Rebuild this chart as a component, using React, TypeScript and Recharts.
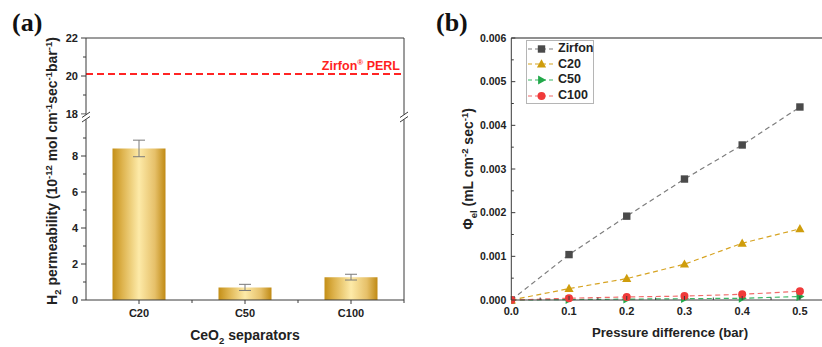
import React from 'react';
import {
  BarChart,
  Bar,
  XAxis,
  YAxis,
  ErrorBar,
  ReferenceLine,
  Label,
  LineChart,
  Line,
  Legend,
} from 'recharts';

// ---------- Panel (a) data ----------
const categories = ['C20', 'C50', 'C100'];
const permeability = [8.42, 0.7, 1.27];
const permeabilityErr = [0.46, 0.17, 0.16];
const zirfonPerl = 20.1;
const lowerTicks = [0, 1, 2, 3, 4, 5, 6, 7, 8, 9];
const upperTicks = [18, 19, 20, 21, 22];

// ---------- Panel (b) data ----------
const pressure = [0, 0.1, 0.2, 0.3, 0.4, 0.5];
const zirfon = [0, 0.00104, 0.00192, 0.00277, 0.00355, 0.00442];
const c20 = [0, 0.00026, 0.00049, 0.00082, 0.0013, 0.00163];
const c50 = [0, 0.00001, 0.00002, 0.00003, 0.00004, 0.00008];
const c100 = [0, 0.00004, 0.00007, 0.00009, 0.00013, 0.0002];
const pTicks = [0, 0.05, 0.1, 0.15, 0.2, 0.25, 0.3, 0.35, 0.4, 0.45, 0.5];
const phiTicks = [0, 0.0005, 0.001, 0.0015, 0.002, 0.0025, 0.003, 0.0035, 0.004, 0.0045, 0.005, 0.0055, 0.006];

// ---------- broken y axis for panel (a): lower segment 0..10, gap, upper segment 18..22 ----------
const LOWER_MAX = 10;
const BREAK_GAP = 1 / 3; // in lower-segment units
const UPPER_MIN = 18;
const UPPER_STRETCH = 19 / 18; // upper segment drawn slightly taller per unit
const brk = (u: number) => LOWER_MAX + BREAK_GAP + (u - UPPER_MIN) * UPPER_STRETCH;
const Y_MAX = brk(upperTicks[upperTicks.length - 1]);

const yTickLabel = new Map<number, string>();
lowerTicks.forEach((t) => yTickLabel.set(t, t % 2 === 0 ? String(t) : ''));
upperTicks.forEach((t) => yTickLabel.set(brk(t), t % 2 === 0 ? String(t) : ''));
const panelATicks = Array.from(yTickLabel.keys());

const barData = categories.map((c, i) => ({ cat: c, val: permeability[i], err: permeabilityErr[i] }));
const phiData = pressure.map((p, i) => ({ p, zirfon: zirfon[i], c20: c20[i], c50: c50[i], c100: c100[i] }));

const FONT = '"Liberation Sans", Arial, sans-serif';
const AXIS = '#3a3a3a';

type TickOpts = {
  side: 'left' | 'bottom';
  inward: boolean;
  majorLen: number;
  minorLen: number;
  margin: number;
  isMajor: (v: any) => boolean;
  fmt: (v: any) => string;
  fontSize: number;
  boundaries?: boolean;
};

const makeTick = (o: TickOpts) => (props: any) => {
  const { x, y, payload } = props;
  const v = payload.value;
  const major = o.isMajor(v);
  const len = major ? o.majorLen : o.minorLen;
  const dir = o.inward ? 1 : -1;
  if (o.side === 'left') {
    const ax = x + o.margin;
    return (
      <g>
        <line x1={ax} x2={ax + dir * len} y1={y} y2={y} stroke={AXIS} strokeWidth={1} />
        {major && (
          <text x={x} y={y} dy="0.36em" textAnchor="end" fontFamily={FONT} fontWeight="bold" fontSize={o.fontSize} fill="#222">
            {o.fmt(v)}
          </text>
        )}
      </g>
    );
  }
  const ay = y - o.margin;
  const band =
    o.boundaries && typeof props.width === 'number' && props.visibleTicksCount
      ? props.width / props.visibleTicksCount
      : 0;
  return (
    <g>
      <line x1={x} x2={x} y1={ay} y2={ay - dir * len} stroke={AXIS} strokeWidth={1} />
      {band > 0 && (
        <line x1={x + band / 2} x2={x + band / 2} y1={ay} y2={ay - dir * o.minorLen} stroke={AXIS} strokeWidth={1} />
      )}
      {major && (
        <text x={x} y={y} dy="0.71em" textAnchor="middle" fontFamily={FONT} fontWeight="bold" fontSize={o.fontSize} fill="#222">
          {o.fmt(v)}
        </text>
      )}
    </g>
  );
};

const panelAYTick = makeTick({
  side: 'left', inward: false, majorLen: 5, minorLen: 3, margin: 8,
  isMajor: (v) => (yTickLabel.get(v) || '') !== '', fmt: (v) => yTickLabel.get(v) || '', fontSize: 11,
});
const catXTick = makeTick({
  side: 'bottom', inward: false, majorLen: 4, minorLen: 3, margin: 9.5,
  isMajor: () => true, fmt: (v) => String(v), fontSize: 11, boundaries: true,
});
const phiYTick = makeTick({
  side: 'left', inward: true, majorLen: 4, minorLen: 2.5, margin: 5,
  isMajor: (v) => Math.abs(Math.round(v * 1000) - v * 1000) < 1e-6, fmt: (v) => v.toFixed(3), fontSize: 10.5,
});
const pXTick = makeTick({
  side: 'bottom', inward: true, majorLen: 4, minorLen: 2.5, margin: 7,
  isMajor: (v) => Math.abs(Math.round(v * 10) - v * 10) < 1e-6, fmt: (v) => v.toFixed(1), fontSize: 11,
});

// ---------- markers ----------
const mk = {
  zirfon: { fill: '#4a4a4a', line: '#7d7d7d' },
  c20: { fill: '#cf9d0c', line: '#d6a321' },
  c50: { fill: '#22a84a', line: '#3bb765' },
  c100: { fill: '#f03a3a', line: '#f06a6a' },
};

const Square = ({ cx, cy, fill }: any) => <rect x={cx - 3.7} y={cy - 3.7} width={7.4} height={7.4} fill={fill} />;
const TriUp = ({ cx, cy, fill }: any) => (
  <polygon points={`${cx},${cy - 4.8} ${cx - 4.6},${cy + 3.4} ${cx + 4.6},${cy + 3.4}`} fill={fill} />
);
const TriRight = ({ cx, cy, fill }: any) => (
  <polygon points={`${cx + 4.6},${cy} ${cx - 3.4},${cy - 4.4} ${cx - 3.4},${cy + 4.4}`} fill={fill} />
);
const Circ = ({ cx, cy, fill }: any) => <circle cx={cx} cy={cy} r={4} fill={fill} />;

const seriesMeta = [
  { key: 'zirfon', name: 'Zirfon', shape: Square, ...mk.zirfon },
  { key: 'c20', name: 'C20', shape: TriUp, ...mk.c20 },
  { key: 'c50', name: 'C50', shape: TriRight, ...mk.c50 },
  { key: 'c100', name: 'C100', shape: Circ, ...mk.c100 },
];

const LegendBox = () => (
  <div
    style={{
      border: '1px solid #b5b5b5',
      background: '#fff',
      fontFamily: FONT,
      fontWeight: 'bold',
      fontSize: 12.5,
      width: 66,
      color: '#222',
    }}
  >
    {seriesMeta.map((s) => {
      const Shape = s.shape;
      return (
        <div key={s.key} style={{ display: 'flex', alignItems: 'center', height: 15.6, lineHeight: '15.6px' }}>
          <svg width={26} height={12} style={{ marginRight: 5, flex: 'none' }}>
            <line x1={1} x2={26} y1={6} y2={6} stroke={s.line} strokeWidth={1.2} strokeDasharray="4 3" />
            <Shape cx={14.5} cy={6} fill={s.fill} />
          </svg>
          <span>{s.name}</span>
        </div>
      );
    })}
  </div>
);

const leftYTitle = (props: any) => {
  const vb = props.viewBox || { x: 0, y: 38, width: 86, height: 262 };
  const cx = vb.x + 52;
  const cy = vb.y + vb.height / 2 + 2;
  return (
    <text
      transform={`translate(${cx},${cy}) rotate(-90)`}
      textAnchor="middle"
      dy="0.36em"
      fontFamily={FONT}
      fontWeight="bold"
      fontSize={14}
      fill="#222"
    >
      H<tspan fontSize={9.5} dy={4}>2</tspan>
      <tspan dy={-4}> permeability (10</tspan>
      <tspan fontSize={9.5} dy={-5.5}>-12</tspan>
      <tspan dy={5.5}> mol cm</tspan>
      <tspan fontSize={9.5} dy={-5.5}>-1</tspan>
      <tspan dy={5.5}>sec</tspan>
      <tspan fontSize={9.5} dy={-5.5}>-1</tspan>
      <tspan dy={5.5}>bar</tspan>
      <tspan fontSize={9.5} dy={-5.5}>-1</tspan>
      <tspan dy={5.5}>)</tspan>
    </text>
  );
};

const leftXTitle = (props: any) => {
  const vb = props.viewBox || { x: 86, y: 300, width: 318, height: 47 };
  return (
    <text x={vb.x + vb.width / 2} y={vb.y + 40} textAnchor="middle" fontFamily={FONT} fontWeight="bold" fontSize={14} fill="#222">
      CeO<tspan fontSize={9.5} dy={4}>2</tspan>
      <tspan dy={-4}> separators</tspan>
    </text>
  );
};

const rightYTitle = (props: any) => {
  const vb = props.viewBox || { x: 0, y: 38, width: 91, height: 262 };
  const cx = vb.x + 48;
  const cy = vb.y + vb.height / 2;
  return (
    <text
      transform={`translate(${cx},${cy}) rotate(-90)`}
      textAnchor="middle"
      dy="0.36em"
      fontFamily={FONT}
      fontWeight="bold"
      fontSize={14}
      fill="#222"
    >
      Φ<tspan fontSize={9.5} dy={4}>el</tspan>
      <tspan dy={-4}> (mL cm</tspan>
      <tspan fontSize={9.5} dy={-5.5}>-2</tspan>
      <tspan dy={5.5}> sec</tspan>
      <tspan fontSize={9.5} dy={-5.5}>-1</tspan>
      <tspan dy={5.5}>)</tspan>
    </text>
  );
};

const rightXTitle = (props: any) => {
  const vb = props.viewBox || { x: 91.3, y: 300, width: 312, height: 47 };
  return (
    <text x={vb.x + 158.7} y={vb.y + 37} textAnchor="middle" fontFamily={FONT} fontWeight="bold" fontSize={13.2} fill="#222">
      Pressure difference (bar)
    </text>
  );
};

const perlLabel = (props: any) => {
  const vb = props.viewBox || { x: 86, y: 74, width: 318 };
  return (
    <text x={vb.x + vb.width - 4} y={vb.y - 4.5} textAnchor="end" fontFamily={FONT} fontWeight="bold" fontSize={12.5} fill="#ff1f1f">
      Zirfon<tspan fontSize={8} dy={-5}>®</tspan>
      <tspan dy={5}> PERL</tspan>
    </text>
  );
};

const abs = (left: number, top: number): React.CSSProperties => ({ position: 'absolute', left, top });

export default function App() {
  return (
    <div style={{ position: 'fixed', left: 0, top: 0, width: 822, height: 347, overflow: 'hidden', background: '#fff' }}>
      {/* Panel (a) */}
      <div style={abs(0, 0)}>
        <BarChart width={420} height={347} data={barData} margin={{ top: 38, right: 16, bottom: 0, left: 0 }} barCategoryGap="25%">
          <defs>
            <linearGradient id="goldGrad" x1="0" y1="0" x2="1" y2="0">
              <stop offset="0%" stopColor="#c48f17" />
              <stop offset="18%" stopColor="#ddb24c" />
              <stop offset="50%" stopColor="#fdeaa8" />
              <stop offset="80%" stopColor="#e6c069" />
              <stop offset="100%" stopColor="#c08a14" />
            </linearGradient>
          </defs>
          <XAxis
            dataKey="cat"
            height={47}
            axisLine={{ stroke: AXIS }}
            tickLine={false}
            tickSize={0}
            tickMargin={9.5}
            interval={0}
            tick={catXTick}
          >
            <Label content={leftXTitle} />
          </XAxis>
          <YAxis
            width={86}
            domain={[0, Y_MAX]}
            ticks={panelATicks}
            interval={0}
            allowDataOverflow
            axisLine={{ stroke: AXIS }}
            tickLine={false}
            tickSize={0}
            tickMargin={8}
            tick={panelATick}
          >
            <Label content={leftYTitle} />
          </YAxis>
          <ReferenceLine y={brk(zirfonPerl)} stroke="#ff2424" strokeWidth={2} strokeDasharray="7 4">
            <Label content={perlLabel} />
          </ReferenceLine>
          <Bar dataKey="val" fill="url(#goldGrad)" isAnimationActive={false}>
            <ErrorBar dataKey="err" width={6} stroke="#7a7a7a" strokeWidth={1} isAnimationActive={false} />
          </Bar>
        </BarChart>
      </div>

      {/* Panel (b) */}
      <div style={abs(420, 0)}>
        <LineChart width={403} height={347} data={phiData} margin={{ top: 38, right: 0, bottom: 0, left: 0 }}>
          <XAxis
            dataKey="p"
            type="number"
            domain={[0, 0.54]}
            ticks={pTicks}
            interval={0}
            allowDataOverflow
            height={47}
            axisLine={{ stroke: AXIS }}
            tickLine={false}
            tickSize={0}
            tickMargin={7}
            tick={pXTick}
          >
            <Label content={rightXTitle} />
          </XAxis>
          <YAxis
            width={91.3}
            domain={[0, 0.006]}
            ticks={phiTicks}
            interval={0}
            axisLine={{ stroke: AXIS }}
            tickLine={false}
            tickSize={0}
            tickMargin={5}
            tick={phiYTick}
          >
            <Label content={rightYTitle} />
          </YAxis>
          <ReferenceLine y={0.006} stroke="#6a6a6a" strokeWidth={1.3} />
          <Legend
            layout="vertical"
            align="center"
            verticalAlign="middle"
            wrapperStyle={{ left: 106, top: 40, width: 68 }}
            content={() => <LegendBox />}
          />
          {seriesMeta.map((s) => {
            const Shape = s.shape;
            return (
              <Line
                key={s.key}
                dataKey={s.key}
                name={s.name}
                type="linear"
                stroke={s.line}
                strokeWidth={1.2}
                strokeDasharray="5 3.5"
                isAnimationActive={false}
                dot={(p: any) => <Shape key={`${s.key}-${p.index}`} cx={p.cx} cy={p.cy} fill={s.fill} />}
                activeDot={false}
              />
            );
          })}
        </LineChart>
      </div>

      {/* panel letters, top/right frame edges of panel (a) and axis-break marks */}
      <svg width={822} height={347} style={{ position: 'absolute', left: 0, top: 0, pointerEvents: 'none' }}>
        <text x={12} y={31} fontFamily='"Liberation Serif", "Times New Roman", serif' fontWeight="bold" fontSize={26} fill="#111">(a)</text>
        <text x={436} y={31} fontFamily='"Liberation Serif", "Times New Roman", serif' fontWeight="bold" fontSize={26} fill="#111">(b)</text>
        <line x1={86} y1={38} x2={404} y2={38} stroke={AXIS} strokeWidth={1} />
        <line x1={404} y1={38} x2={404} y2={300} stroke={AXIS} strokeWidth={1} />
        <rect x={80} y={114.6} width={12} height={4.8} fill="#fff" />
        <rect x={398} y={114.6} width={12} height={4.8} fill="#fff" />
        <g stroke={AXIS} strokeWidth={1}>
          <line x1={82} y1={117.5} x2={90} y2={112} />
          <line x1={82} y1={122} x2={90} y2={116.5} />
          <line x1={400} y1={117.5} x2={408} y2={112} />
          <line x1={400} y1={122} x2={408} y2={116.5} />
        </g>
      </svg>
    </div>
  );
}

function panelATick(props: any) {
  return panelAYTick(props);
}
